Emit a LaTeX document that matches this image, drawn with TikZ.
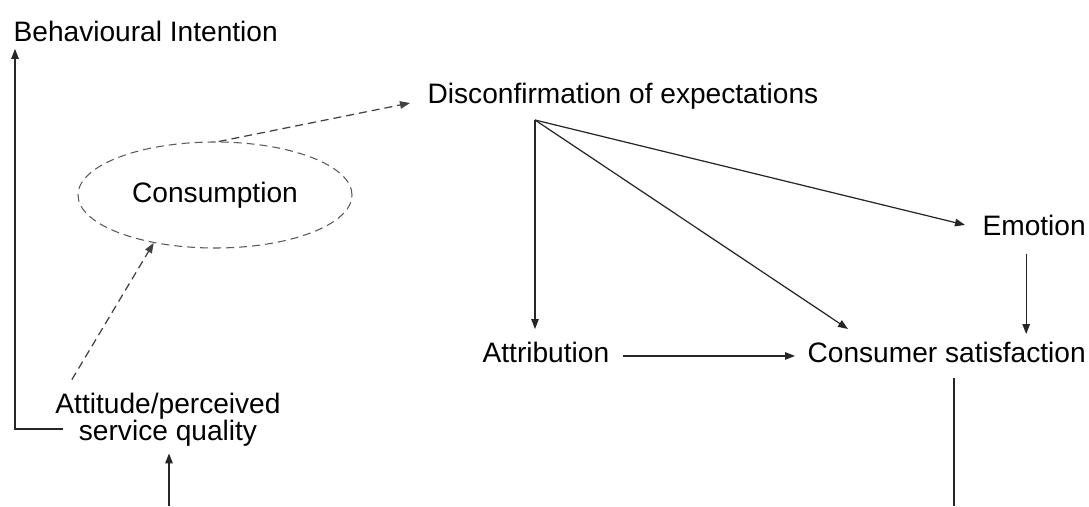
\documentclass[tikz,border=0pt]{standalone}
\usepackage{fontspec}
\setmainfont{Liberation Sans}
\usetikzlibrary{positioning, arrows.meta, calc, shapes.geometric}

\begin{document}
\begin{tikzpicture}[>={Triangle[length=2mm,width=1.5mm]}, line width=0.7pt,
  lbl/.style={inner sep=0.14cm, font=\fontsize{16}{15}\selectfont},
  oval/.style={ellipse, draw=black!65, dashed, dash pattern=on 0.16cm off 0.1cm, line width=0.6pt, minimum width=5.48cm, minimum height=2.12cm, inner sep=0pt, font=\fontsize{16}{15}\selectfont},
  link/.style={->, black!85},
  dlink/.style={->, black!75, dash pattern=on 0.16cm off 0.1cm}]
\useasboundingbox (0,0) rectangle (21.78,10.12);
% labels
\node[lbl, anchor=base west] (bi)   at (0.12,9.30)  {Behavioural Intention};
\node[lbl, anchor=base west] (disc) at (8.40,8.06)  {Disconfirmation of expectations};
\node[oval]                  (cons) at (4.30,6.22)  {Consumption};
\node[lbl, anchor=base west] (emo)  at (19.50,5.42) {Emotion};
\node[lbl, anchor=base west] (attr) at (9.50,2.88)  {Attribution};
\node[lbl, anchor=base west] (sat)  at (16.00,2.88) {Consumer satisfaction};
\node[lbl, anchor=base, align=center] (att) at (3.36,1.32) {Attitude/perceived\\service quality};
% free ends
\coordinate (split)  at (10.70,7.72);
\coordinate (attout) at (1.26,1.54);
\coordinate (bitip)  at ([xshift=0.18cm]bi.south west);
\coordinate (attin)  at (3.38,0);
\coordinate (satout) at (19.08,0);
% feedback to intention
\draw[link] (attout) -| (bitip);
\draw[link] (attin) -- (attin |- att.south);
% consumption loop
\draw[dlink] ([xshift=0.48cm,yshift=0.12cm]att.north west) -- (cons.218);
\draw[dlink] (cons.86) -- ([xshift=-0.2cm]disc.base west);
% disconfirmation paths
\draw[link] (split) -- ([yshift=0.1cm]split |- attr.north);
\draw[link] (split) -- ([xshift=0.96cm,yshift=0.1cm]sat.north west);
\draw[link] (split) -- ([xshift=-0.2cm]emo.west);
\draw[link] ([xshift=-0.16cm,yshift=-0.22cm]emo.south) -- ([xshift=-0.16cm]emo.south |- sat.north);
\draw[link, shorten <=0.12cm, shorten >=0.1cm] ([yshift=-0.08cm]attr.east) -- ([yshift=-0.08cm]sat.west);
\draw[black!85] ([yshift=-0.16cm]sat.south -| satout) -- (satout);
\end{tikzpicture}
\end{document}
